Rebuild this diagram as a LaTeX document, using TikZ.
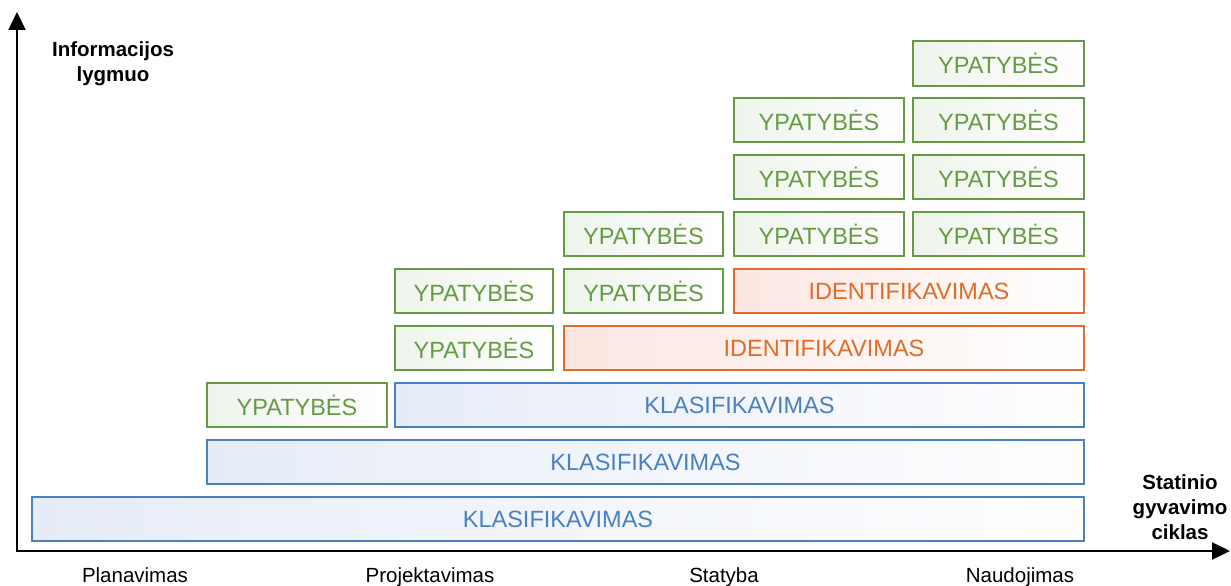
\documentclass[tikz,border=0pt]{standalone}
\usepackage{fontspec}
\setmainfont{Liberation Sans}
\usetikzlibrary{arrows.meta}
\definecolor{cgreen}{RGB}{100,155,68}
\definecolor{cblue}{RGB}{74,128,192}
\definecolor{corange}{RGB}{224,108,42}
\definecolor{tblue}{RGB}{230,236,247}
\definecolor{tgreen}{RGB}{238,244,235}
\definecolor{torange}{RGB}{252,230,225}
\tikzset{
  box/.style={rectangle, inner sep=0pt, line width=1.8pt, font=\fontsize{23.5}{26}\selectfont, shading angle=135},
  ybox/.style={box, draw=cgreen, text=cgreen, left color=tgreen, right color=white},
  kbox/.style={box, draw=cblue, text=cblue, left color=tblue, right color=white!96!tblue},
  ibox/.style={box, draw=corange, text=corange, left color=torange, right color=white},
  axis/.style={line width=2.2pt, -{Triangle[length=18pt,width=17pt]}},
  axlab/.style={font=\bfseries\fontsize{20.5}{25}\selectfont, align=center},
  phase/.style={font=\fontsize{20.5}{24}\selectfont, anchor=base, inner sep=0pt}
}
\newcommand{\bx}[7]{% style, name, x1, y1, x2, y2, text
  \node[#1, minimum width={#5-#3}, minimum height={#6-#4}] (#2) at ({(#3+#5)/2},{(#4+#6)/2}) {#7};}
\begin{document}
\begin{tikzpicture}[x=1pt,y=-1pt]
\useasboundingbox (0,0) rectangle (1231,586);
\coordinate (o) at (17,551);
\coordinate (ytop) at (17,12);
\coordinate (xend) at (1230,551);
\draw[axis] (o) -- (ytop);
\draw[axis] ([xshift=-1.1pt]o) -- (xend);
\node[axlab] (ylab) at (113,64) {Informacijos\\lygmuo};
\node[axlab] (xlab) at (1180,507) {Statinio\\gyvavimo\\ciklas};
\node[phase] (p1) at (135,582) {Planavimas};
\node[phase] (p2) at (430,582) {Projektavimas};
\node[phase] (p3) at (724,582) {Statyba};
\node[phase] (p4) at (1020,582) {Naudojimas};
% row 1
\bx{kbox}{k1}{32}{497}{1084}{541}{KLASIFIKAVIMAS}
% row 2
\bx{kbox}{k2}{207}{440}{1084}{484}{KLASIFIKAVIMAS}
% row 3
\bx{ybox}{y31}{207}{383}{387}{427}{YPATYBĖS}
\bx{kbox}{k3}{395}{383}{1084}{427}{KLASIFIKAVIMAS}
% row 4
\bx{ybox}{y41}{395}{326}{553}{370}{YPATYBĖS}
\bx{ibox}{i4}{564}{326}{1084}{370}{IDENTIFIKAVIMAS}
% row 5
\bx{ybox}{y51}{395}{269}{553}{313}{YPATYBĖS}
\bx{ybox}{y52}{564}{269}{723}{313}{YPATYBĖS}
\bx{ibox}{i5}{734}{269}{1084}{313}{IDENTIFIKAVIMAS}
% row 6
\bx{ybox}{y61}{564}{212}{723}{256}{YPATYBĖS}
\bx{ybox}{y62}{734}{212}{904}{256}{YPATYBĖS}
\bx{ybox}{y63}{913}{212}{1084}{256}{YPATYBĖS}
% row 7
\bx{ybox}{y71}{734}{155}{904}{199}{YPATYBĖS}
\bx{ybox}{y72}{913}{155}{1084}{199}{YPATYBĖS}
% row 8
\bx{ybox}{y81}{734}{98}{904}{142}{YPATYBĖS}
\bx{ybox}{y82}{913}{98}{1084}{142}{YPATYBĖS}
% row 9
\bx{ybox}{y91}{913}{41}{1084}{86}{YPATYBĖS}
\end{tikzpicture}
\end{document}
